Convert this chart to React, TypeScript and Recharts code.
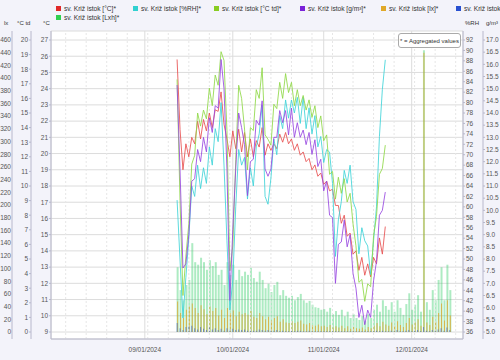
import React from "react";
import { ComposedChart, Line, Bar, XAxis, YAxis, CartesianGrid, ReferenceLine } from "recharts";

// day index: 0 = 1 Sep 2024
const FIRST_DAY = 11;
const MONTH_TICKS = [0, 30, 61, 91];
const MONTH_LABELS = ["09/01/2024", "10/01/2024", "11/01/2024", "12/01/2024"];
const WEEK_LINES = [-27, -20, -13, -6, 1, 8, 15, 22, 29, 36, 43, 50, 57, 64, 71, 78, 85, 92, 99, 106];

const C_TICKS = [9, 10, 11, 12, 13, 14, 15, 16, 17, 18, 19, 20, 21, 22, 23, 24, 25, 26, 27];
const TD_TICKS = [0, 1, 2, 3, 4, 5, 6, 7, 8, 9, 10, 11, 12, 13, 14, 15, 16, 17, 18, 19, 20];
const LX_TICKS = [0, 20, 40, 60, 80, 100, 120, 140, 160, 180, 200, 220, 240, 260, 280, 300, 320, 340, 360, 380, 400, 420, 440, 460];
const RH_TICKS = [36, 38, 40, 42, 44, 46, 48, 50, 52, 54, 56, 58, 60, 62, 64, 66, 68, 70, 72, 74, 76, 78, 80, 82, 84, 86, 88, 90, 92];
const AH_TICKS = [5, 5.5, 6, 6.5, 7, 7.5, 8, 8.5, 9, 9.5, 10, 10.5, 11, 11.5, 12, 12.5, 13, 13.5, 14, 14.5, 15, 15.5, 16, 16.5, 17];

// daily values, day 11 .. 82
const tempC = [
  25.8, 21.5, 19.0, 20.6, 19.8, 21.0, 20.6, 22.0, 20.9, 22.1,
  21.4, 22.5, 21.6, 22.7, 22.6, 23.8, 21.8, 20.9, 19.8, 21.4,
  20.3, 21.5, 20.1, 21.3, 19.8, 20.9, 19.8, 20.8, 20.4, 21.6,
  19.9, 20.6, 20.2, 20.6, 20.3, 21.2, 20.7, 21.3, 20.6, 20.9,
  20.2, 20.6, 19.9, 20.1, 19.5, 19.7, 19.0, 19.3, 18.6, 18.8,
  18.1, 18.3, 17.7, 17.8, 16.8, 16.8, 15.7, 16.2, 14.9, 15.1,
  13.8, 14.0, 12.8, 13.6, 12.5, 13.2, 12.4, 13.6, 13.2, 14.8,
  13.8, 15.5,
];
const relHum = [
  61.3, 49.8, 38.7, 46.5, 54.0, 64.0, 62.0, 68.0, 63.5, 67.5,
  64.5, 71.5, 68.0, 75.0, 72.5, 80.0, 68.0, 53.5, 40.2, 46.0,
  60.0, 71.0, 68.0, 69.5, 61.5, 67.5, 64.0, 71.5, 74.0, 79.5,
  62.0, 60.5, 65.5, 73.0, 70.0, 77.5, 75.0, 80.5, 77.0, 80.5,
  78.0, 81.0, 76.0, 81.0, 75.0, 79.0, 74.0, 77.5, 71.5, 73.5,
  68.5, 71.0, 70.5, 64.5, 50.5, 57.5, 61.0, 67.0, 64.5, 68.0,
  61.0, 59.5, 51.0, 56.0, 53.5, 52.5, 47.0, 53.5, 60.0, 73.5,
  82.5, 88.2,
];
const dewPoint = [
  17.3, 9.0, 2.5, 5.2, 7.4, 11.5, 12.1, 15.0, 14.1, 15.2,
  14.6, 16.7, 15.5, 17.6, 16.9, 19.2, 18.6, 13.8, 4.2, 5.9,
  11.8, 16.9, 16.0, 13.9, 11.1, 14.0, 13.8, 16.6, 16.0, 18.1,
  13.5, 13.2, 12.8, 15.6, 15.3, 17.1, 16.0, 17.7, 16.4, 17.1,
  15.5, 16.6, 15.5, 16.2, 15.2, 15.9, 14.7, 15.5, 14.0, 14.8,
  13.1, 13.5, 10.8, 11.0, 9.1, 10.6, 9.5, 10.5, 8.9, 9.5,
  7.4, 5.9, 3.4, 3.6, 2.1, 3.3, 3.1, 6.6, 7.9, 10.8,
  11.2, 12.8,
];
const absHum = [
  15.15, 11.66, 7.63, 7.8, 9.0, 11.2, 11.3, 12.5, 12.0, 13.0,
  12.4, 13.8, 13.2, 14.3, 14.2, 16.2, 15.0, 11.7, 6.3, 9.2,
  11.7, 14.0, 13.4, 12.7, 10.6, 12.0, 12.1, 13.7, 13.5, 14.5,
  11.7, 11.4, 11.7, 13.0, 13.0, 14.1, 13.6, 14.1, 13.1, 14.2,
  13.0, 13.6, 13.0, 13.3, 12.7, 13.2, 12.3, 12.9, 11.8, 12.1,
  10.8, 11.2, 9.8, 9.7, 7.0, 8.6, 8.7, 9.6, 8.5, 9.0,
  7.4, 6.8, 5.6, 6.1, 5.3, 5.9, 5.6, 7.1, 7.9, 9.8,
  10.0, 10.75,
];

// daily peaks, day 11 .. 104
const luxHours = [
  102, 66, 50, 74, 82, 140, 110, 106, 117, 110,
  98, 113, 104, 110, 90, 98, 74, 110, 90, 106,
  82, 98, 88, 95, 90, 101, 85, 79, 95, 82,
  69, 76, 63, 74, 79, 58, 66, 57, 54, 57,
  50, 55, 60, 50, 46, 49, 43, 39, 38, 35,
  36, 32, 38, 28, 33, 27, 35, 25, 32, 22,
  28, 22, 19, 25, 17, 28, 22, 35, 43, 32,
  50, 41, 35, 47, 32, 50, 38, 27, 44, 61,
  35, 43, 58, 32, 444, 47, 35, 66, 50, 82,
  102, 50, 106, 66,
];
const lux = [
  48, 30, 22, 35, 40, 45, 38, 30, 42, 36,
  28, 40, 33, 38, 26, 35, 22, 38, 30, 34,
  25, 32, 28, 30, 27, 33, 24, 22, 30, 25,
  20, 24, 18, 22, 25, 16, 20, 15, 14, 17,
  14, 16, 18, 13, 12, 14, 11, 10, 12, 9,
  10, 8, 11, 7, 9, 7, 10, 6, 9, 5,
  8, 6, 5, 7, 4, 8, 6, 10, 14, 9,
  16, 12, 10, 15, 9, 17, 11, 8, 14, 22,
  12, 15, 20, 10, 440, 15, 11, 24, 16, 30,
  45, 18, 50, 26,
];
const luxBlue = [
  14, 6, 3, 8, 9, 10, 6, 4, 8, 5,
  3, 7, 4, 6, 3, 5, 2, 6, 4, 5,
  3, 4, 3, 4, 2, 4, 2, 2, 4, 3,
  2, 3, 2, 2, 3, 1, 2, 1, 1, 2,
  1, 2, 2, 1, 1, 2, 1, 1, 1, 1,
  1, 1, 1, 1, 1, 1, 1, 1, 1, 1,
  1, 1, 1, 1, 1, 1, 1, 1, 2, 1,
  2, 1, 1, 2, 1, 3, 1, 1, 2, 3,
  1, 2, 3, 1, 8, 2, 1, 3, 2, 4,
  6, 2, 7, 3,
];

const data = luxHours.map((v, i) => ({
  day: FIRST_DAY + i,
  lxh: v,
  lx: lux[i],
  blue: luxBlue[i],
  t: tempC[i],
  rh: relHum[i],
  td: dewPoint[i],
  ah: absHum[i],
}));

const LEGEND_ROW1 = [
  { name: "sv. Križ istok [°C]*", color: "#e02828", w: 77 },
  { name: "sv. Križ istok [%RH]*", color: "#30d0d0", w: 81 },
  { name: "sv. Križ istok [°C td]*", color: "#88cc22", w: 86 },
  { name: "sv. Križ istok [g/m³]*", color: "#7a22d8", w: 81 },
  { name: "sv. Križ istok [lx]*", color: "#e0a828", w: 75 },
  { name: "sv. Križ istok [W/m²]*", color: "#2850d0", w: 90 },
];
const LEGEND_ROW2 = [{ name: "sv. Križ istok [Lxh]*", color: "#30d050", w: 90 }];

const tick = { fontSize: 6.5, fill: "#555" };
const axisStroke = "#b8b8cc";

function LegendRow({ items, top }: { items: { name: string; color: string; w: number }[]; top: number }) {
  return (
    <div style={{ position: "absolute", left: 56, top, right: 0, display: "flex", whiteSpace: "nowrap", overflow: "hidden", fontSize: 6.6, color: "#333", lineHeight: "9px" }}>
      {items.map((it) => (
        <div key={it.name} style={{ display: "flex", alignItems: "center", flex: `0 0 ${it.w}px` }}>
          <span style={{ width: 5, height: 5, background: it.color, marginRight: 3, display: "inline-block" }} />
          <span>{it.name}</span>
        </div>
      ))}
    </div>
  );
}

export default function App() {
  return (
    <div style={{ position: "absolute", left: 0, top: 0, width: 500, height: 360, background: "#f3f3fa", fontFamily: "'Liberation Sans', Arial, sans-serif", overflow: "hidden" }}>
      <LegendRow items={LEGEND_ROW1} top={4} />
      <LegendRow items={LEGEND_ROW2} top={13} />
      <div style={{ position: "absolute", top: 20, left: 0, width: 500, fontSize: 6, color: "#333" }}>
        <span style={{ position: "absolute", left: 4 }}>lx</span>
        <span style={{ position: "absolute", left: 17 }}>°C td</span>
        <span style={{ position: "absolute", left: 43 }}>°C</span>
        <span style={{ position: "absolute", left: 465 }}>%RH</span>
        <span style={{ position: "absolute", left: 486 }}>g/m³</span>
      </div>
      <ComposedChart width={500} height={360} data={data} margin={{ top: 31, right: 0, bottom: 7, left: 0 }} barGap={-1.5}>
        <CartesianGrid xAxisId="x" yAxisId="y1c" fill="#fff" stroke="#dcdcdc" />
        <XAxis xAxisId="x" dataKey="day" type="number" domain={[-32, 108.5]} allowDataOverflow ticks={MONTH_TICKS}
          tickFormatter={(v: number) => MONTH_LABELS[MONTH_TICKS.indexOf(v)] ?? ""} tick={tick} tickLine={false} stroke={axisStroke} height={14} />
        <YAxis yAxisId="y1c" orientation="left" width={20} domain={[9, 27]} ticks={C_TICKS} interval={0} tick={tick} tickSize={2} tickMargin={1} stroke={axisStroke} padding={{ top: 9, bottom: 7 }} />
        <YAxis yAxisId="y2td" orientation="left" width={19} domain={[0, 20]} ticks={TD_TICKS} interval={0} tick={tick} tickSize={2} tickMargin={1} stroke={axisStroke} padding={{ top: 9, bottom: 7 }} />
        <YAxis yAxisId="y3lx" orientation="left" width={12} domain={[0, 460]} ticks={LX_TICKS} interval={0} tick={tick} tickLine={false} tickSize={0} tickMargin={1} stroke={axisStroke} padding={{ top: 9, bottom: 7 }} />
        <YAxis yAxisId="y4rh" orientation="right" width={20} domain={[36, 92]} ticks={RH_TICKS} interval={0} tick={tick} tickSize={2} tickMargin={1} stroke={axisStroke} padding={{ top: 9, bottom: 7 }} />
        <YAxis yAxisId="y5ah" orientation="right" width={17} domain={[5, 17]} ticks={AH_TICKS} interval={0} tick={tick} tickSize={2} tickMargin={1} stroke={axisStroke} padding={{ top: 9, bottom: 7 }}
          tickFormatter={(v: number) => v.toFixed(1)} />
        {WEEK_LINES.map((d) => (
          <ReferenceLine key={d} x={d} xAxisId="x" yAxisId="y1c" stroke="#e6e6e6" strokeDasharray="2 2" />
        ))}
        <Bar xAxisId="x" yAxisId="y3lx" dataKey="lxh" barSize={2} fill="#33cc66" fillOpacity={0.4} isAnimationActive={false} />
        <Bar xAxisId="x" yAxisId="y3lx" dataKey="lx" barSize={1} fill="#e0a830" fillOpacity={0.8} isAnimationActive={false} />
        <Bar xAxisId="x" yAxisId="y3lx" dataKey="blue" barSize={1} fill="#3858d0" fillOpacity={0.6} isAnimationActive={false} />
        <Line xAxisId="x" yAxisId="y1c" dataKey="t" stroke="#e85050" strokeOpacity={0.85} strokeWidth={1} dot={false} isAnimationActive={false} />
        <Line xAxisId="x" yAxisId="y4rh" dataKey="rh" stroke="#40d4d8" strokeOpacity={0.85} strokeWidth={1} dot={false} isAnimationActive={false} />
        <Line xAxisId="x" yAxisId="y2td" dataKey="td" stroke="#8fd848" strokeOpacity={0.85} strokeWidth={1} dot={false} isAnimationActive={false} />
        <Line xAxisId="x" yAxisId="y5ah" dataKey="ah" stroke="#9848e0" strokeOpacity={0.85} strokeWidth={1} dot={false} isAnimationActive={false} />
      </ComposedChart>
      <div style={{ position: "absolute", left: 398, top: 33, width: 61, height: 13, border: "1px solid #aaa", borderRadius: 3, background: "#fff", fontSize: 6, color: "#333", display: "flex", alignItems: "center", justifyContent: "center" }}>
        * = Aggregated values
      </div>
    </div>
  );
}
